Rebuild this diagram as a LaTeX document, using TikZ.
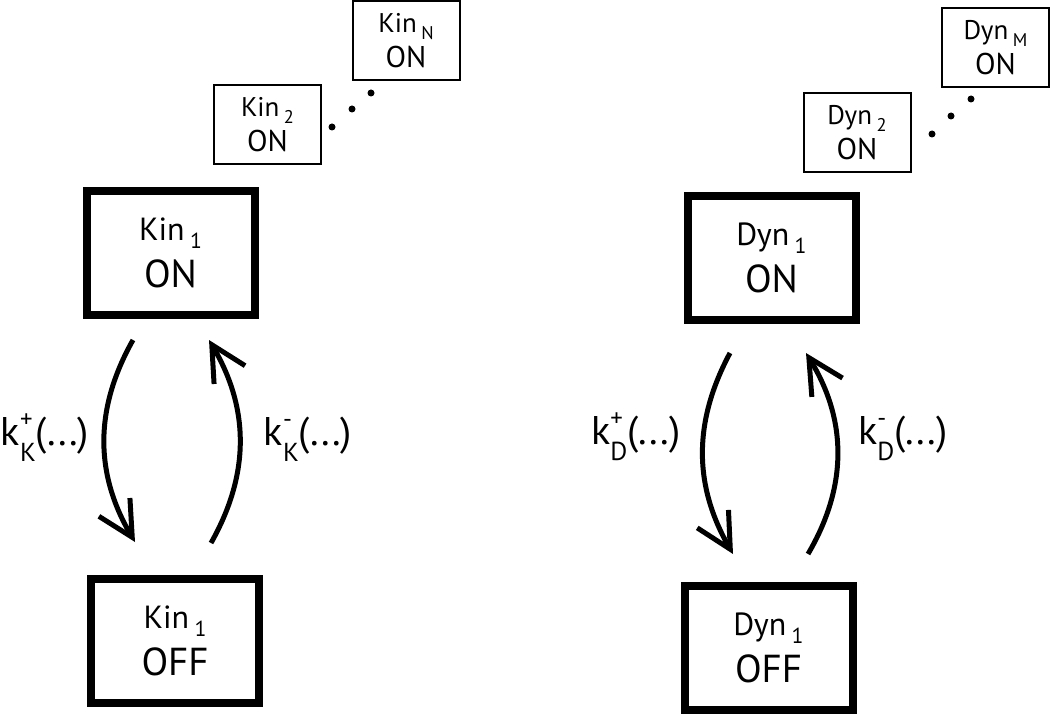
\documentclass[tikz,border=0pt]{standalone}
\usepackage{fontspec}
\setmainfont{PT Sans}
\usetikzlibrary{arrows.meta}

\newcommand{\bigname}{\fontsize{32}{47}\selectfont}
\newcommand{\bigstate}{\fontsize{39}{47}\selectfont}
\newcommand{\smallname}{\fontsize{27}{35}\selectfont}
\newcommand{\smallstate}{\fontsize{30}{35}\selectfont}
\newcommand{\idx}[1]{\,\raisebox{-0.25em}{\scalebox{0.68}{#1}}}
\newcommand{\rate}[2]{k\rlap{\raisebox{0.45em}{\scalebox{0.62}{#1}}}\raisebox{-0.42em}{\scalebox{0.65}{#2}}(...)}

\begin{document}
\begin{tikzpicture}[x=1pt, y=1pt,
	mainbox/.style={draw, rectangle, line width=8pt, minimum width=168pt,
		minimum height=124pt, inner sep=0pt, align=center, font=\bigname},
	sidebox/.style={draw, rectangle, line width=2pt, minimum width=107pt,
		minimum height=79pt, inner sep=0pt, align=center, font=\smallname},
	flip/.style={line width=5pt, -{Straight Barb[length=35pt, width=36pt]}},
	ratelabel/.style={anchor=base, inner sep=0pt, font=\fontsize{40}{42}\selectfont}]

	\useasboundingbox (0,0) rectangle (1050,-714);

	\node[mainbox] (kinon)  at (170.5,-253) {Kin\idx{1}\\ {\bigstate ON}};
	\node[mainbox] (kinoff) at (175,-641)   {Kin\idx{1}\\ {\bigstate OFF}};
	\node[sidebox] (kintwo) at (267.5,-124.5) {Kin\idx{2}\\ {\smallstate ON}};
	\node[sidebox] (kinlast) at (406,-41)   {Kin\idx{N}\\ {\smallstate ON}};

	\node[mainbox] (dynon)  at (771.5,-258) {Dyn\idx{1}\\ {\bigstate ON}};
	\node[mainbox] (dynoff) at (768.5,-648) {Dyn\idx{1}\\ {\bigstate OFF}};
	\node[sidebox] (dyntwo) at (857,-133)   {Dyn\idx{2}\\ {\smallstate ON}};
	\node[sidebox] (dynlast) at (995.5,-48) {Dyn\idx{M}\\ {\smallstate ON}};

	\foreach \p in {(332,-127), (352,-109), (371,-93), (932,-134), (951,-116), (971,-99)}
		\fill \p circle (3.5pt);

	\draw[flip] ([xshift=-37.5pt, yshift=-21pt]kinon.south) to[bend right=30]
		([xshift=-40pt, yshift=33pt]kinoff.north);
	\draw[flip] ([xshift=36pt, yshift=32pt]kinoff.north) to[bend right=30]
		([xshift=38.5pt, yshift=-21pt]kinon.south);
	\draw[flip] ([xshift=-41.5pt, yshift=-29pt]dynon.south) to[bend right=29]
		([xshift=-35.5pt, yshift=28pt]dynoff.north);
	\draw[flip] ([xshift=39.5pt, yshift=28pt]dynoff.north) to[bend right=31]
		([xshift=34.5pt, yshift=-29pt]dynon.south);

	\node[ratelabel] (kinup)   at (45,-445)  {\rate{+}{K}};
	\node[ratelabel] (kindown) at (308,-445) {\rate{-}{K}};
	\node[ratelabel] (dynup)   at (636,-444) {\rate{+}{D}};
	\node[ratelabel] (dyndown) at (903,-444) {\rate{-}{D}};
\end{tikzpicture}
\end{document}
